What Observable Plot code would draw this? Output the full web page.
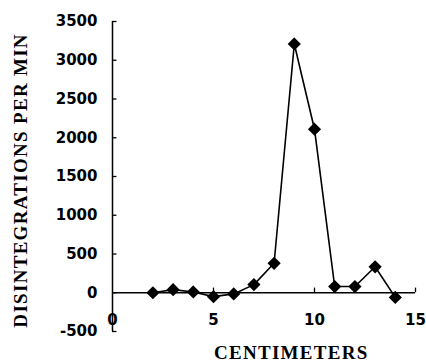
<!DOCTYPE html>
<html>
<head>
<meta charset="utf-8">
<script src="https://cdn.jsdelivr.net/npm/d3@7"></script>
<script src="https://cdn.jsdelivr.net/npm/@observablehq/plot@0.6"></script>
<style>
  html, body { margin: 0; padding: 0; background: #fff; }
  #chart svg { display: block; }
</style>
</head>
<body>
<div id="chart"></div>
<script>
const centimeters = [2, 3, 4, 5, 6, 7, 8, 9, 10, 11, 12, 13, 14];
const dpm = [0, 40, 10, -50, -15, 105, 380, 3210, 2110, 80, 80, 335, -60];
const xTicks = [0, 5, 10, 15];
const yTicks = [-500, 0, 500, 1000, 1500, 2000, 2500, 3000, 3500];
const xTitle = "CENTIMETERS";
const yTitle = "DISINTEGRATIONS PER MIN";

const data = centimeters.map((c, i) => ({c, v: dpm[i]}));

const serif = "'Liberation Serif', 'DejaVu Serif', serif";
const sans = "'DejaVu Sans', sans-serif";

const chart = Plot.plot({
  width: 426,
  height: 362,
  marginLeft: 112,
  marginRight: 11,
  marginTop: 21,
  marginBottom: 31,
  style: {background: "#fff", color: "#000", fontFamily: sans, fontSize: "15px", fontWeight: "bold"},
  x: {domain: [0, 15]},
  y: {domain: [-500, 3500]},
  marks: [
    Plot.ruleX([0], {stroke: "#000", strokeWidth: 1.5}),
    Plot.ruleY([0], {stroke: "#000", strokeWidth: 1.5}),
    Plot.ruleY(yTicks, {y: d => d, x1: 0, x2: 0.22, stroke: "#000", strokeWidth: 1.3}),
    Plot.ruleX(xTicks.filter(d => d > 0), {x: d => d, y1: 0, y2: 60, stroke: "#000", strokeWidth: 1.3}),
    Plot.axisY(yTicks, {tickSize: 0, tickPadding: 15, tickFormat: d => String(d), label: null, fontSize: 15, fontWeight: "bold"}),
    Plot.axisX(xTicks, {anchor: "bottom", tickSize: 0, tickPadding: 0, dy: -17, tickFormat: d => String(d), label: null, fontSize: 15, fontWeight: "bold"}),
    Plot.line(data, {x: "c", y: "v", stroke: "#000", strokeWidth: 1.6}),
    Plot.dot(data, {x: "c", y: "v", symbol: "diamond2", r: 5, fill: "#000", stroke: "#000"}),
    Plot.text([xTitle], {frameAnchor: "bottom", x: 8.85, dy: 21, text: d => d, fontFamily: serif, fontSize: 19, fontWeight: "bold", textAnchor: "middle", lineAnchor: "middle"}),
    Plot.text([yTitle], {frameAnchor: "left", dx: -92, y: 1450, rotate: -90, text: d => d, fontFamily: serif, fontSize: 19, fontWeight: "bold", textAnchor: "middle", lineAnchor: "middle"})
  ]
});
document.getElementById("chart").appendChild(chart);
chart.querySelectorAll("text").forEach(t => {
  if (t.textContent === xTitle || t.textContent === yTitle) t.setAttribute("letter-spacing", "1.3");
});
</script>
</body>
</html>
